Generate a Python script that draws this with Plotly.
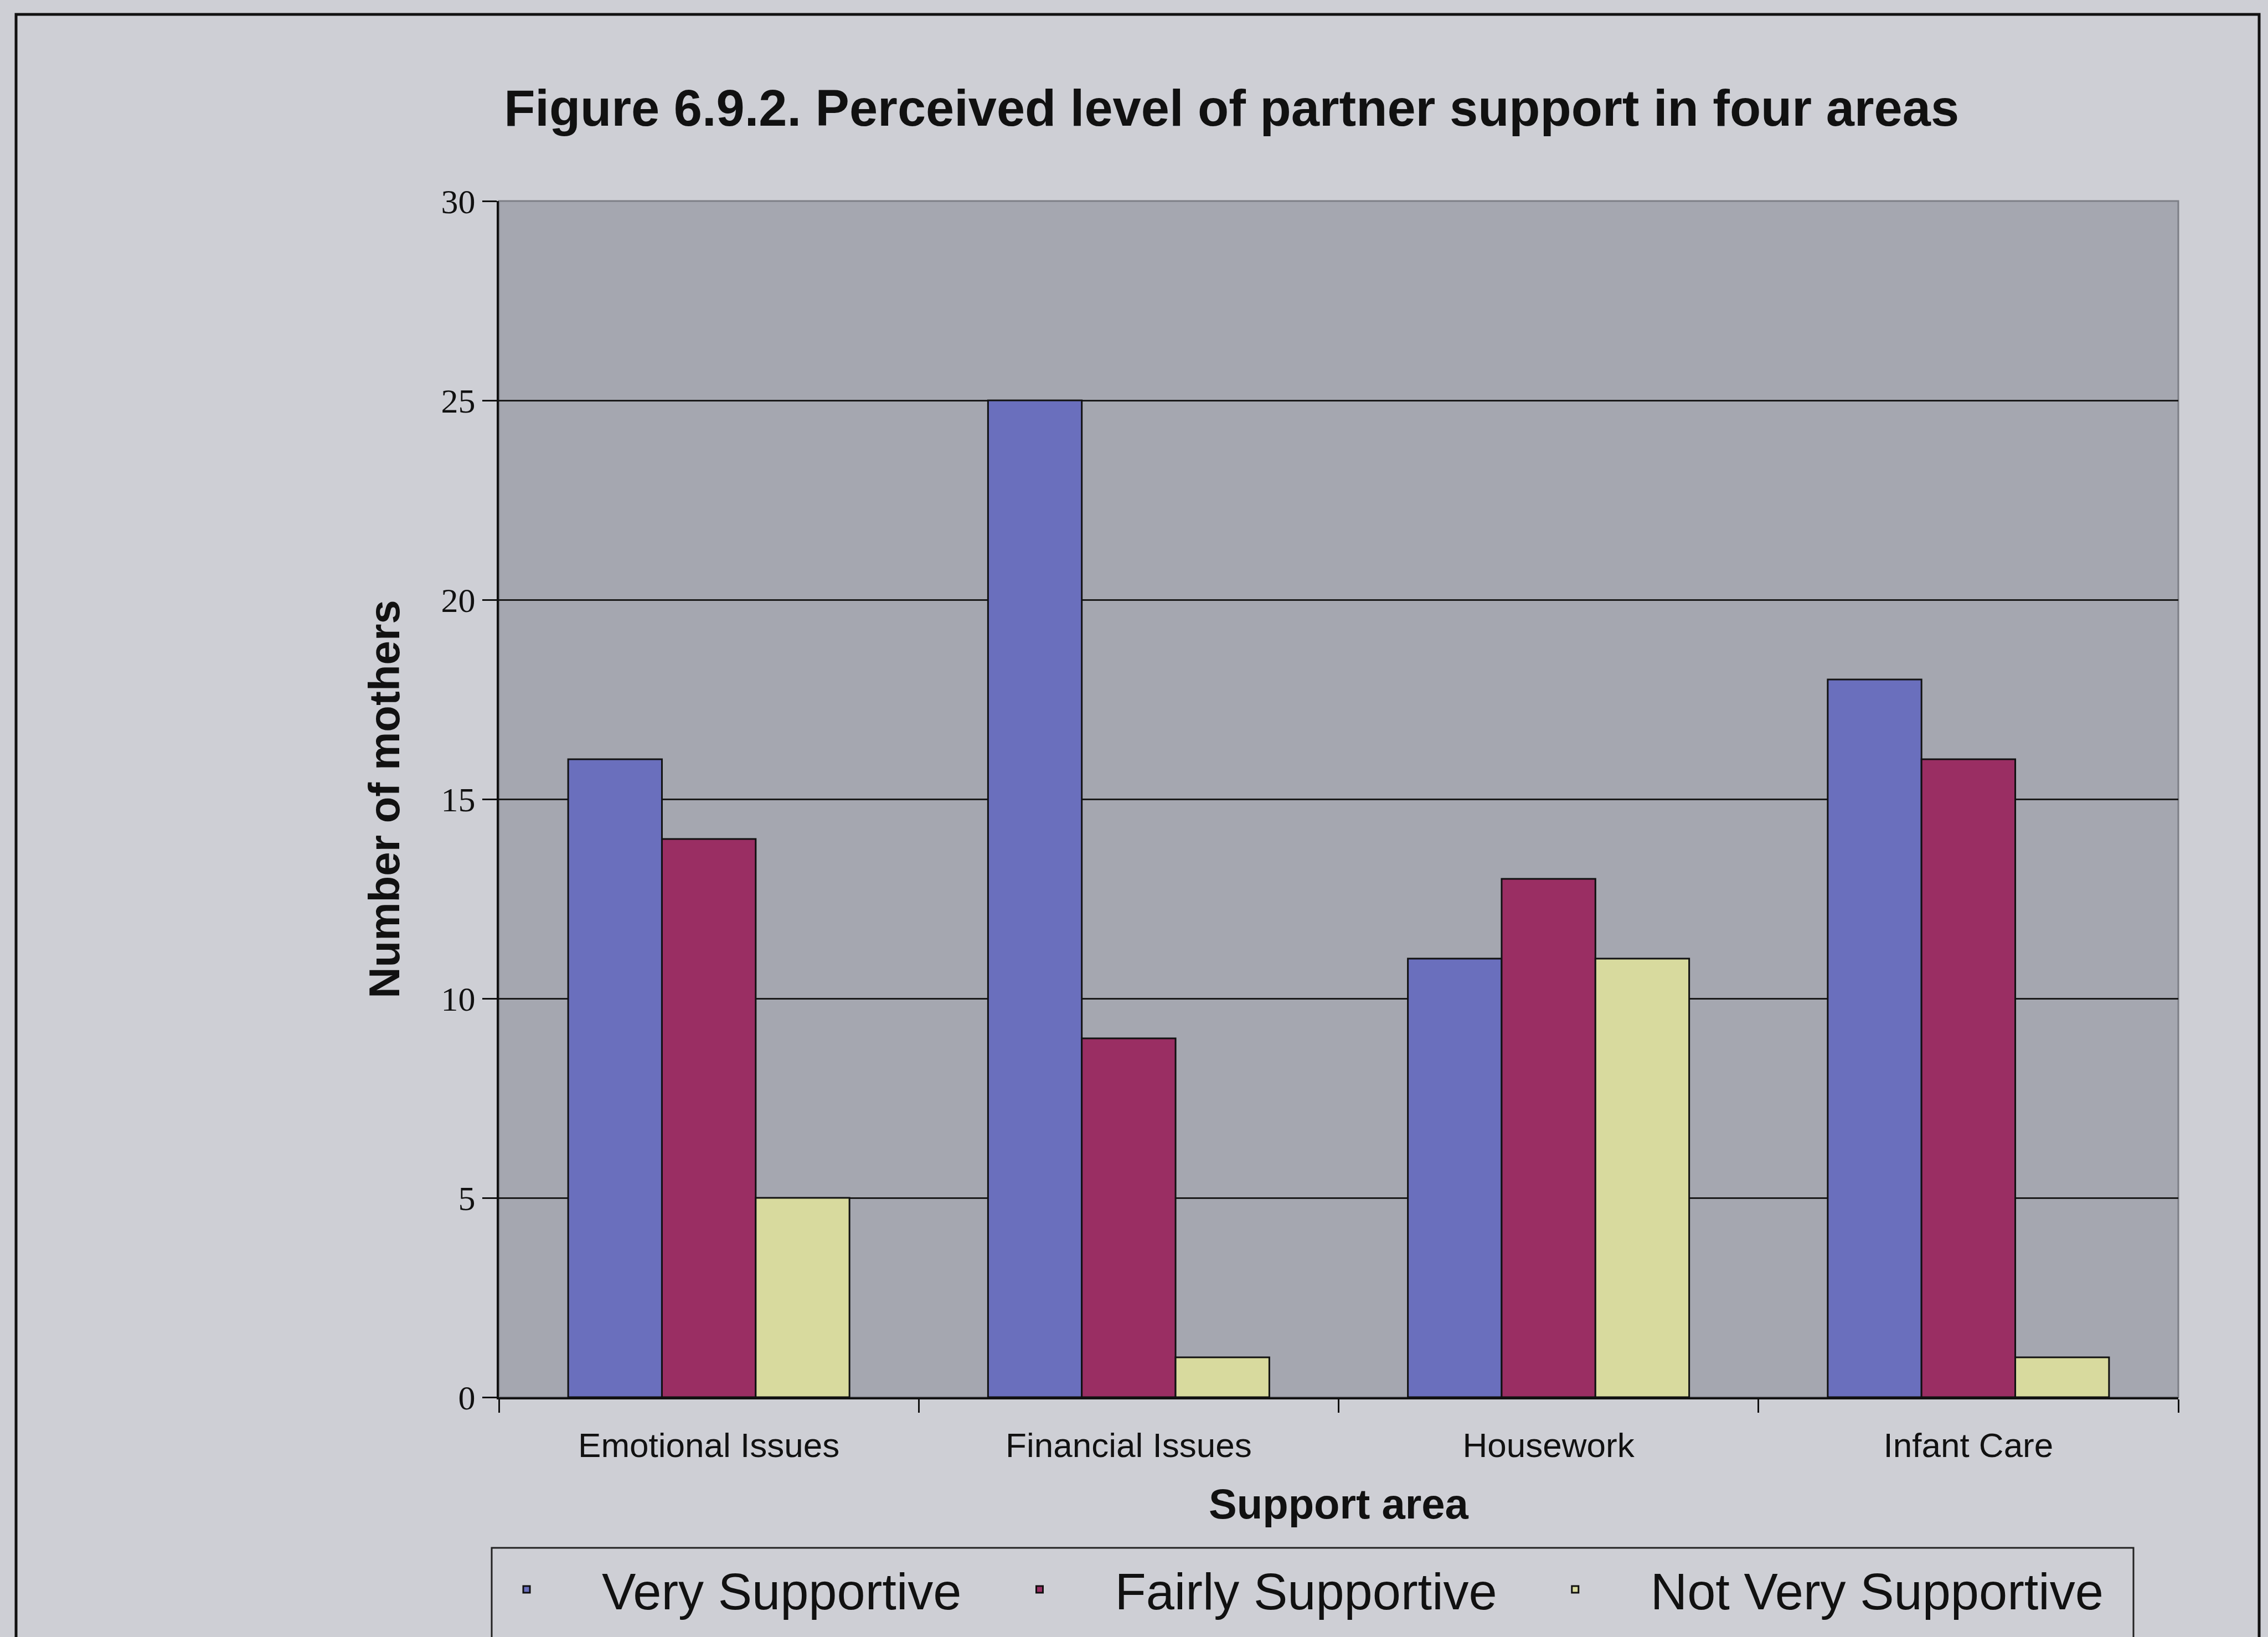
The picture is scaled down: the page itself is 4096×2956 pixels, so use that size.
import plotly.graph_objects as go

categories = ["Emotional Issues", "Financial Issues", "Housework", "Infant Care"]
very_supportive = [16, 25, 11, 18]
fairly_supportive = [14, 9, 13, 16]
not_very_supportive = [5, 1, 11, 1]
series_names = ["Very Supportive", "Fairly Supportive", "Not Very Supportive"]
series_colors = ["#6a6fbd", "#9a2e63", "#d8da9e"]
y_ticks = [0, 5, 10, 15, 20, 25, 30]

W, H = 4096, 2956
L, R, T, B = 901, 162, 363, 433
PW, PH = W - L - R, H - T - B


def px_x(x):
    return (x - L) / PW


def px_y(y):
    return (H - B - y) / PH


fig = go.Figure()
for name, vals, col in zip(series_names, [very_supportive, fairly_supportive, not_very_supportive], series_colors):
    fig.add_trace(go.Bar(
        x=categories, y=vals, name=name,
        marker=dict(color=col, line=dict(color="#111111", width=3)),
    ))

fig.update_layout(
    width=W, height=H,
    margin=dict(l=L, r=R, t=T, b=B, autoexpand=False),
    paper_bgcolor="#cecfd5",
    plot_bgcolor="#a5a7b0",
    barmode="group",
    bargap=0.33,
    bargroupgap=0,
    font=dict(family="Liberation Sans, Arial", color="#111111"),
    title=dict(
        text="<b>Figure 6.9.2. Perceived level of partner support in four areas</b>",
        font=dict(size=92, family="Liberation Sans, Arial", color="#111111"),
        xref="container", x=0.543, xanchor="center",
        yref="container", y=0.934, yanchor="middle",
    ),
    xaxis=dict(
        title=dict(text="<b>Support area</b>", font=dict(size=76, family="Liberation Sans, Arial"), standoff=46),
        tickfont=dict(size=62, family="Liberation Sans, Arial"),
        ticklabelstandoff=30,
        showline=True, linecolor="#111111", linewidth=4,
        ticks="outside", ticklen=24, tickwidth=3, tickcolor="#111111",
        tickson="boundaries",
        showgrid=False,
    ),
    yaxis=dict(
        title=dict(text="<b>Number of mothers</b>", font=dict(size=78, family="Liberation Sans, Arial"), standoff=50),
        tickfont=dict(size=62, family="Liberation Serif, Times New Roman"),
        range=[0, 30], tickvals=y_ticks,
        showline=True, linecolor="#111111", linewidth=4,
        ticks="outside", ticklen=26, tickwidth=3, tickcolor="#111111",
        showgrid=True, gridcolor="#1a1a1a", gridwidth=2.5,
        zeroline=False,
    ),
    legend=dict(
        orientation="h",
        x=px_x(815), xanchor="left",
        y=px_y(2795) - 0.004, yanchor="top",
        font=dict(size=92, family="Liberation Sans, Arial"),
        bgcolor="rgba(0,0,0,0)",
        borderwidth=0,
        itemwidth=262,
    ),
    shapes=[
        # plot-area frame
        dict(type="rect", xref="paper", yref="paper", x0=0, x1=1, y0=0, y1=1,
             line=dict(color="#7d7f86", width=3), layer="below"),
        # outer chart frame
        dict(type="rect", xref="paper", yref="paper",
             x0=px_x(29), x1=px_x(4080), y0=px_y(3200), y1=px_y(26),
             line=dict(color="#111111", width=5)),
        # legend box
        dict(type="rect", xref="paper", yref="paper",
             x0=px_x(888), x1=px_x(3853), y0=px_y(3100), y1=px_y(2795),
             line=dict(color="#222222", width=3)),
    ],
)

fig.write_html(
    "out.html",
    config={"displayModeBar": False},
    post_script="document.body.style.margin='0';document.body.style.overflow='hidden';",
)
